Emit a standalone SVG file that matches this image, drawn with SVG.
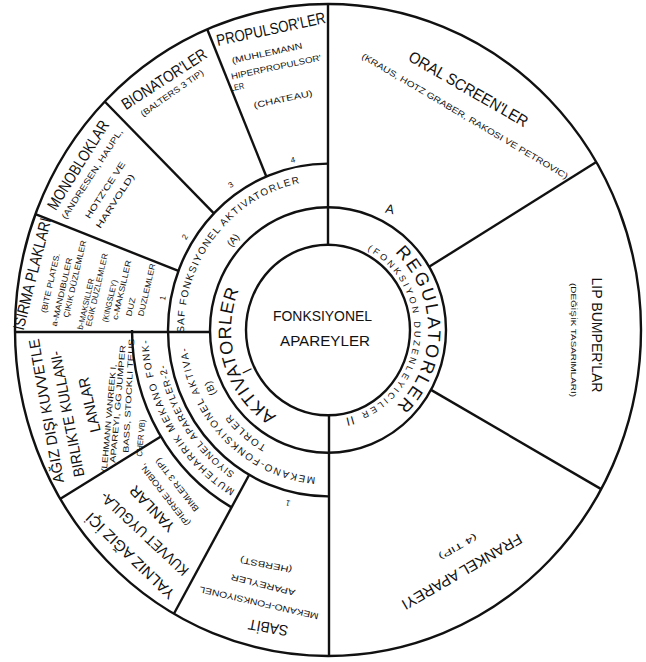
<svg xmlns="http://www.w3.org/2000/svg" width="646" height="662" viewBox="0 0 646 662">
<style>
.ln{fill:none;stroke:#111;stroke-width:2.4}
text{font-family:"Liberation Sans","DejaVu Sans",Arial,sans-serif;fill:#111}
.c{text-anchor:middle;dominant-baseline:central}
.t1{font-size:16px}
.t2{font-size:15px}
.sm{font-size:8.5px}
.xs{font-size:8px}
</style>
<defs>
<path id="pReg" d="M381,241.8 A100,104 0 0 1 381,418.2"/>
<path id="pFon" d="M363.2,247.8 A86.5,90 0 0 1 331,419.9"/>
<path id="pAkt" d="M287,421.4 A97,100.9 0 0 1 248.5,272.1"/>
<path id="pSaf" d="M184.2,337.8 A144,149.8 0 0 1 315.4,180.8"/>
<path id="pMek" d="M323,477.6 A142,147.7 0 0 1 186.2,337.7"/>
<path id="pTor" d="M284.6,454.1 A127,132.1 0 0 1 205.3,364.2"/>
<path id="pMut" d="M243.5,495.3 A180,187.2 0 0 1 148,330"/>
<path id="pSiy" d="M250.1,482.4 A166,172.6 0 0 1 162,330"/>
</defs>
<rect width="646" height="662" fill="#fff"/>

<g id="lines">
<ellipse class="ln" cx="328" cy="330" rx="313" ry="326"/>
<ellipse class="ln" cx="328" cy="330" rx="118" ry="122.7"/>
<ellipse class="ln" cx="328" cy="330" rx="82" ry="85.3"/>
<path class="ln" d="M328,163.6 A160,166.4 0 0 0 328,496.4"/>
<path class="ln" d="M132,330 A196,203.8 0 0 0 231.5,507.4"/>
<path class="ln" d="M328,244.7 V4"/>
<path class="ln" d="M329,415 V656"/>
<path class="ln" d="M266.3,176.5 L207.2,29.3"/>
<path class="ln" d="M213.9,213.4 L104.7,101.5"/>
<path class="ln" d="M178.4,270.9 L35.4,214.2"/>
<path class="ln" d="M210,332 H15"/>
<path class="ln" d="M160.9,436.5 L60,499"/>
<path class="ln" d="M249.2,474.8 L173.9,613.7"/>
<path class="ln" d="M429.1,266.8 L596.3,162.1"/>
<path class="ln" d="M431,389.9 L601.2,489.1"/>
</g>

<g id="center">
<text class="c" style="font-size:15.5px" transform="translate(322.5,315)" textLength="99" lengthAdjust="spacingAndGlyphs">FONKSIYONEL</text>
<text class="c" style="font-size:15.5px" transform="translate(325,340)" textLength="90" lengthAdjust="spacingAndGlyphs">APAREYLER</text>
</g>

<g id="regulatorler">
<text style="font-size:18px;letter-spacing:2.3px"><textPath href="#pReg" startOffset="50%" text-anchor="middle">REGULATORLER</textPath></text>
<text style="font-size:9px;letter-spacing:2.75px"><textPath href="#pFon" startOffset="4.6">(FONKSIYON DUZENLEYICILER</textPath></text>
<text style="font-size:12px;letter-spacing:1px"><textPath href="#pFon" startOffset="215">II</textPath></text>
<text class="c" style="font-size:13px" transform="translate(390,209) rotate(12)">A</text>
</g>

<g id="aktivatorler">
<text style="font-size:18px;letter-spacing:0.7px"><textPath href="#pAkt" startOffset="12">AKTIVATORLER</textPath></text>
<text class="c" style="font-size:14px" transform="translate(247,371) rotate(-116)">I</text>
</g>

<g id="saf-fonksiyonel">
<text style="font-size:10px;letter-spacing:1.29px"><textPath href="#pSaf" startOffset="5">SAF FONKSIYONEL AKTIVATORLER</textPath></text>
<text class="c" style="font-size:10px" transform="translate(233,240) rotate(-50)">(A)</text>
</g>

<g id="mekano-fonksiyonel">
<text style="font-size:10px;letter-spacing:1.56px"><textPath href="#pMek" startOffset="7.5">MEKANO-FONKSIYONEL AKTIVA-</textPath></text>
<text style="font-size:10px;letter-spacing:1.6px"><textPath href="#pTor" startOffset="20">TORLER</textPath></text>
<text style="font-size:10px;letter-spacing:0.5px"><textPath href="#pTor" startOffset="93">(B)</textPath></text>
</g>

<g id="muteharrik">
<text style="font-size:10px;letter-spacing:1.52px"><textPath href="#pMut" startOffset="10">MUTEHARRIK MEKANO FONK-</textPath></text>
<text style="font-size:9.5px;letter-spacing:1.07px"><textPath href="#pSiy" startOffset="18">SIYONEL APAREYLER-2-</textPath></text>
</g>

<g id="propulsorler">
<text class="c t1" transform="translate(271,29) rotate(-12)" textLength="111" lengthAdjust="spacingAndGlyphs">PROPULSOR'LER</text>
<text class="c sm" transform="translate(267,53) rotate(-12)" textLength="72" lengthAdjust="spacingAndGlyphs">(MUHLEMANN</text>
<text class="c sm" transform="translate(276,67) rotate(-12)" textLength="92" lengthAdjust="spacingAndGlyphs">HIPERPROPULSOR'</text>
<text class="c sm" transform="translate(237,87) rotate(-12)" textLength="14" lengthAdjust="spacingAndGlyphs">LER</text>
<text class="c sm" transform="translate(283,99) rotate(-12)" textLength="60" lengthAdjust="spacingAndGlyphs">(CHATEAU)</text>
<text class="c xs" transform="translate(293,160) rotate(-12)">4</text>
</g>

<g id="bionatorler">
<text class="c t1" transform="translate(164,79) rotate(-33)" textLength="98" lengthAdjust="spacingAndGlyphs">BIONATOR'LER</text>
<text class="c sm" transform="translate(172,93) rotate(-35)" textLength="75" lengthAdjust="spacingAndGlyphs">(BALTERS 3 TIP)</text>
<text class="c xs" transform="translate(231,185) rotate(-35)">3</text>
</g>

<g id="monobloklar">
<text class="c t1" transform="translate(78,165) rotate(-58)" textLength="102" lengthAdjust="spacingAndGlyphs">MONOBLOKLAR</text>
<text class="c sm" transform="translate(92,174) rotate(-57)" textLength="105" lengthAdjust="spacingAndGlyphs">(ANDRESEN, HAUPL,</text>
<text class="c sm" transform="translate(105,190) rotate(-57)" textLength="66" lengthAdjust="spacingAndGlyphs">HOTZ'CE VE</text>
<text class="c sm" transform="translate(115,201) rotate(-57)" textLength="63" lengthAdjust="spacingAndGlyphs">HARVOLD)</text>
<text class="c xs" transform="translate(185,237) rotate(-58)">2</text>
</g>

<g id="isirma-plaklari">
<text class="c t1" transform="translate(32,274) rotate(-76)" textLength="115" lengthAdjust="spacingAndGlyphs">ISIRMA PLAKLARI</text>
<text class="c xs" transform="translate(50.7,283) rotate(-77)" textLength="61" lengthAdjust="spacingAndGlyphs">(BITE PLATES.</text>
<text class="c xs" transform="translate(62,292) rotate(-77)" textLength="70" lengthAdjust="spacingAndGlyphs">a-MANDIBULER</text>
<text class="c xs" transform="translate(75,279) rotate(-77)" textLength="79" lengthAdjust="spacingAndGlyphs">ÇIKIK DÜZLEMLER</text>
<text class="c xs" transform="translate(86,304) rotate(-77)" textLength="52" lengthAdjust="spacingAndGlyphs">b-MAKSILLER</text>
<text class="c xs" transform="translate(97,290) rotate(-77)" textLength="75" lengthAdjust="spacingAndGlyphs">EGIK DUZLEMLER</text>
<text class="c xs" transform="translate(110,301) rotate(-77)" textLength="43" lengthAdjust="spacingAndGlyphs">(KINGSLEY)</text>
<text class="c xs" transform="translate(122,290) rotate(-77)" textLength="61" lengthAdjust="spacingAndGlyphs">c-MAKSILLER</text>
<text class="c xs" transform="translate(131,307) rotate(-77)" textLength="19" lengthAdjust="spacingAndGlyphs">DUZ</text>
<text class="c xs" transform="translate(147,290) rotate(-77)" textLength="54" lengthAdjust="spacingAndGlyphs">DUZLEMLER</text>
<text class="c xs" transform="translate(163,298) rotate(-79)">1</text>
</g>

<g id="agiz-disi">
<text class="c t2" transform="translate(46,411) rotate(-100)" textLength="146" lengthAdjust="spacingAndGlyphs">AĞIZ DIŞI KUVVETLE</text>
<text class="c t2" transform="translate(67,414) rotate(-101)" textLength="128" lengthAdjust="spacingAndGlyphs">BIRLIKTE KULLANI-</text>
<text class="c t2" transform="translate(89,405) rotate(-103)" textLength="56" lengthAdjust="spacingAndGlyphs">LANLAR</text>
<text class="c xs" transform="translate(109,418) rotate(-85)" textLength="108" lengthAdjust="spacingAndGlyphs">(LEHMANN VANREEK I,</text>
<text class="c xs" transform="translate(118,404) rotate(-85)" textLength="118" lengthAdjust="spacingAndGlyphs">APAREYI, GG JUMPER</text>
<text class="c xs" transform="translate(129,394) rotate(-87)" textLength="118" lengthAdjust="spacingAndGlyphs">BASS, STOCKLI TEUS-</text>
<text class="c xs" transform="translate(141,438) rotate(-85)" textLength="37" lengthAdjust="spacingAndGlyphs">CHER VB)</text>
</g>

<g id="yalniz-agiz-ici">
<text class="c t2" transform="translate(130,556) rotate(-136)" textLength="117" lengthAdjust="spacingAndGlyphs">YALNIZ AĞIZ İÇİ</text>
<text class="c t2" transform="translate(144,534) rotate(-137)" textLength="115" lengthAdjust="spacingAndGlyphs">KUVVET UYGULA-</text>
<text class="c t2" transform="translate(152,509) rotate(-134)" textLength="58" lengthAdjust="spacingAndGlyphs">YANLAR</text>
<text class="c sm" transform="translate(165,495) rotate(-128)" textLength="76" lengthAdjust="spacingAndGlyphs">(PIERRE ROBIN,</text>
<text class="c sm" transform="translate(177,485) rotate(-128)" textLength="65" lengthAdjust="spacingAndGlyphs">BIMLER 3 TIP)</text>
</g>

<g id="sabit">
<text class="c t2" transform="translate(268,628) rotate(-170)" textLength="40" lengthAdjust="spacingAndGlyphs">SABİT</text>
<text class="c sm" transform="translate(259,603) rotate(-167)" textLength="122" lengthAdjust="spacingAndGlyphs">MEKANO-FONKSIYONEL</text>
<text class="c sm" transform="translate(263,585) rotate(-166)" textLength="66" lengthAdjust="spacingAndGlyphs">APAREYLER</text>
<text class="c sm" transform="translate(266,565) rotate(-169)" textLength="53" lengthAdjust="spacingAndGlyphs">(HERBST)</text>
<text class="c xs" transform="translate(288,503) rotate(-166)">1</text>
</g>

<g id="frankel">
<text class="c t2" transform="translate(462,572) rotate(150)" textLength="136" lengthAdjust="spacingAndGlyphs">FRANKEL APAREYI</text>
<text class="c sm" transform="translate(458,547) rotate(150)" textLength="43" lengthAdjust="spacingAndGlyphs">(4 TIP)</text>
</g>

<g id="lip-bumper">
<text class="c t2" transform="translate(597,335) rotate(90)" textLength="115" lengthAdjust="spacingAndGlyphs">LIP BUMPER'LAR</text>
<text class="c xs" transform="translate(573,340) rotate(90)" textLength="114" lengthAdjust="spacingAndGlyphs">(DEĞİŞİK TASARIMLARI)</text>
</g>

<g id="oral-screen">
<text class="c t1" transform="translate(468.5,89) rotate(30)" textLength="135" lengthAdjust="spacingAndGlyphs">ORAL SCREEN'LER</text>
<text class="c sm" transform="translate(465,116) rotate(30.6)" textLength="238" lengthAdjust="spacingAndGlyphs">(KRAUS, HOTZ GRABER, RAKOSI VE PETROVIC)</text>
</g>
</svg>
